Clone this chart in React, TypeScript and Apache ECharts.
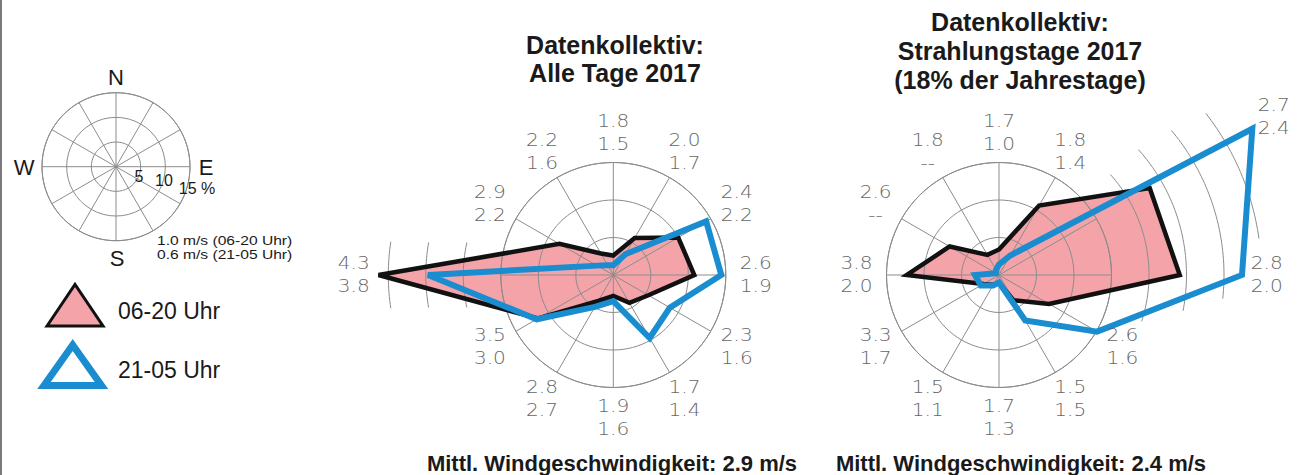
import React, { useEffect, useRef } from "react";
import * as echarts from "echarts";

// 12 direction sectors (degrees, clockwise from north)
const DIRECTIONS = [0, 30, 60, 90, 120, 150, 180, 210, 240, 270, 300, 330];

// Datenkollektiv: Alle Tage 2017 — frequency (%) per sector
const allDay = [2.6, 5.7, 10.0, 10.8, 5.4, 4.3, 2.8, 4.0, 11.6, 31.3, 8.3, 3.3];
const allNight = [1.3, 3.2, 14.3, 14.4, 8.7, 9.7, 3.5, 4.9, 11.8, 24.7, 2.5, 1.5];
// mean wind speed (m/s) per sector
const allDaySpeed = ["1.8", "2.0", "2.4", "2.6", "2.3", "1.7", "1.9", "2.8", "3.5", "4.3", "2.9", "2.2"];
const allNightSpeed = ["1.5", "1.7", "2.2", "1.9", "1.6", "1.4", "1.6", "2.7", "3.0", "3.8", "2.2", "1.6"];

// Datenkollektiv: Strahlungstage 2017 — frequency (%) per sector
const radDay = [3.4, 10.7, 23.2, 24.1, 7.7, 3.9, 1.0, 1.5, 2.4, 12.3, 7.6, 3.1];
const radNight = [1.4, 3.0, 39.0, 32.4, 15.1, 7.0, 1.0, 1.6, 2.8, 3.2, 0.5, 0.8];
const radDaySpeed = ["1.7", "1.8", "2.7", "2.8", "2.6", "1.5", "1.7", "1.5", "3.3", "3.8", "2.6", "1.8"];
const radNightSpeed = ["1.0", "1.4", "2.4", "2.0", "1.6", "1.5", "1.3", "1.1", "1.7", "2.0", "--", "--"];

// extra partial rings beyond 15 % : [percent, fromAngle, toAngle]
const allExtraArcs = [[20, 257.5, 282.5], [25, 260, 280], [30, 261.5, 278.5]];
const radExtraArcs = [[20, 48, 108], [25, 48, 101], [30, 50, 96], [35, 52, 82]];

const TITLE_ALL = ["Datenkollektiv:", "Alle Tage 2017"];
const TITLE_RAD = ["Datenkollektiv:", "Strahlungstage 2017", "(18% der Jahrestage)"];
const FOOT_ALL = "Mittl. Windgeschwindigkeit: 2.9 m/s";
const FOOT_RAD = "Mittl. Windgeschwindigkeit: 2.4 m/s";

const GRID = "#8c8c8c";
const PINK = "#f4a3a9";
const BLACK = "#111111";
const BLUE = "#1a8cd0";
const LABEL = "#666666";

function roseSeries(
  polarIndex: number,
  day: number[],
  night: number[],
  daySpeed: string[],
  nightSpeed: string[],
  arcs: number[][]
) {
  const pts = (api: any, vals: number[]) => vals.map((v, i) => api.coord([v, DIRECTIONS[i]]));
  const dirData = (vals: number[]) => vals.map((v, i) => [v, DIRECTIONS[i]]);
  return [
    {
      type: "custom",
      coordinateSystem: "polar",
      polarIndex,
      z: 1,
      silent: true,
      clip: false,
      data: dirData(day),
      renderItem: (params: any, api: any) =>
        params.dataIndex !== 0
          ? null
          : { type: "polygon", shape: { points: pts(api, day) }, style: { fill: PINK, stroke: null } },
    },
    {
      type: "custom",
      coordinateSystem: "polar",
      polarIndex,
      z: 2.5,
      silent: true,
      clip: false,
      data: arcs,
      renderItem: (params: any, api: any) => {
        const r = api.value(0);
        const a0 = api.value(1);
        const a1 = api.value(2);
        const p: number[][] = [];
        for (let a = a0; a < a1; a += 1) p.push(api.coord([r, a]));
        p.push(api.coord([r, a1]));
        return { type: "polyline", shape: { points: p }, style: { stroke: GRID, lineWidth: 1, fill: null } };
      },
    },
    {
      type: "custom",
      coordinateSystem: "polar",
      polarIndex,
      z: 3,
      silent: true,
      clip: false,
      data: dirData(day),
      renderItem: (params: any, api: any) =>
        params.dataIndex !== 0
          ? null
          : {
              type: "polygon",
              shape: { points: pts(api, day) },
              style: { fill: null, stroke: BLACK, lineWidth: 4.5, lineJoin: "miter", miterLimit: 4 },
            },
    },
    {
      type: "custom",
      coordinateSystem: "polar",
      polarIndex,
      z: 4,
      silent: true,
      clip: false,
      data: dirData(night),
      renderItem: (params: any, api: any) =>
        params.dataIndex !== 0
          ? null
          : {
              type: "polygon",
              shape: { points: pts(api, night) },
              style: { fill: null, stroke: BLUE, lineWidth: 6, lineJoin: "miter", miterLimit: 10 },
            },
    },
    {
      type: "custom",
      coordinateSystem: "polar",
      polarIndex,
      z: 5,
      silent: true,
      clip: false,
      data: DIRECTIONS.map((d, i) => [Math.max(19, Math.max(day[i], night[i]) + 3.3), d]),
      renderItem: (params: any, api: any) => {
        const p = api.coord([api.value(0), api.value(1)]);
        const i = params.dataIndex;
        return {
          type: "text",
          x: p[0],
          y: p[1],
          scaleX: 1.18,
          style: {
            text: daySpeed[i] + "\n" + nightSpeed[i],
            fill: LABEL,
            fontSize: 17,
            fontFamily: "DejaVu Sans",
            fontWeight: 200,
            lineHeight: 23,
            align: "center",
            verticalAlign: "middle",
          },
        };
      },
    },
  ];
}

function txt(x: number, y: number, text: string, size: number, opts: any = {}) {
  return {
    type: "text",
    x,
    y,
    z: 10,
    silent: true,
    scaleX: opts.scaleX || 1,
    style: {
      text,
      fill: opts.fill || "#1a1a1a",
      fontSize: size,
      fontFamily: opts.family || "Liberation Sans, Arial, sans-serif",
      fontWeight: opts.weight || "normal",
      align: opts.align || "center",
      verticalAlign: "middle",
    },
  };
}

export default function App() {
  const ref = useRef<HTMLDivElement>(null);
  useEffect(() => {
    if (!ref.current) return;
    const chart = echarts.init(ref.current, null, { renderer: "svg" });
    const axisIdx = [0, 1, 2];
    const option: any = {
      animation: false,
      backgroundColor: "#ffffff",
      polar: [
        { center: [116, 166.7], radius: 74 },
        { center: [613.3, 275], radius: 112.5 },
        { center: [999, 275], radius: 112.5 },
      ],
      angleAxis: axisIdx.map((i) => ({
        polarIndex: i,
        type: "value",
        min: 0,
        max: 360,
        interval: 30,
        startAngle: 90,
        clockwise: true,
        z: 2,
        silent: true,
        axisLine: { show: true, lineStyle: { color: GRID, width: 1 } },
        axisTick: { show: false },
        axisLabel: { show: false },
        splitLine: { show: true, lineStyle: { color: GRID, width: 1 } },
      })),
      radiusAxis: axisIdx.map((i) => ({
        polarIndex: i,
        type: "value",
        min: 0,
        max: 15,
        interval: 5,
        z: 2,
        silent: true,
        axisLine: { show: false },
        axisTick: { show: false },
        axisLabel: { show: false },
        splitLine: { show: true, lineStyle: { color: GRID, width: 1 } },
      })),
      series: [
        ...roseSeries(1, allDay, allNight, allDaySpeed, allNightSpeed, allExtraArcs),
        ...roseSeries(2, radDay, radNight, radDaySpeed, radNightSpeed, radExtraArcs),
      ],
      graphic: [
        { type: "rect", z: 10, silent: true, shape: { x: 0, y: 0, width: 2, height: 475 }, style: { fill: "#7a7a7a" } },
        // key rose labels
        txt(116, 77, "N", 22),
        txt(24, 167, "W", 22),
        txt(206, 167, "E", 22),
        txt(117, 258, "S", 22),
        txt(139, 176, "5", 16),
        txt(164, 180, "10", 16),
        txt(197, 188, "15 %", 16),
        txt(157, 241, "1.0 m/s (06-20 Uhr)", 12.5, { align: "left", scaleX: 1.25 }),
        txt(157, 254.5, "0.6 m/s (21-05 Uhr)", 12.5, { align: "left", scaleX: 1.25 }),
        // legend
        {
          type: "polygon",
          z: 10,
          silent: true,
          shape: { points: [[47, 326], [75, 284.5], [103, 326]] },
          style: { fill: PINK, stroke: BLACK, lineWidth: 3 },
        },
        {
          type: "polygon",
          z: 10,
          silent: true,
          shape: { points: [[44, 385.5], [72.7, 345], [101.5, 385.5]] },
          style: { fill: "#ffffff", stroke: BLUE, lineWidth: 7 },
        },
        txt(118, 311, "06-20 Uhr", 23, { align: "left" }),
        txt(118, 370, "21-05 Uhr", 23, { align: "left" }),
        // titles
        txt(615, 45, TITLE_ALL[0], 25, { weight: "bold" }),
        txt(615, 73, TITLE_ALL[1], 25, { weight: "bold" }),
        txt(1020, 22, TITLE_RAD[0], 25, { weight: "bold" }),
        txt(1020, 51, TITLE_RAD[1], 25, { weight: "bold" }),
        txt(1020, 80, TITLE_RAD[2], 25, { weight: "bold" }),
        // footers
        txt(612, 463, FOOT_ALL, 22, { weight: "bold" }),
        txt(1021, 463, FOOT_RAD, 22, { weight: "bold" }),
      ],
    };
    chart.setOption(option);
    return () => chart.dispose();
  }, []);
  return (
    <div
      ref={ref}
      style={{ position: "absolute", left: 0, top: 0, width: 1299, height: 475, background: "#fff" }}
    />
  );
}
